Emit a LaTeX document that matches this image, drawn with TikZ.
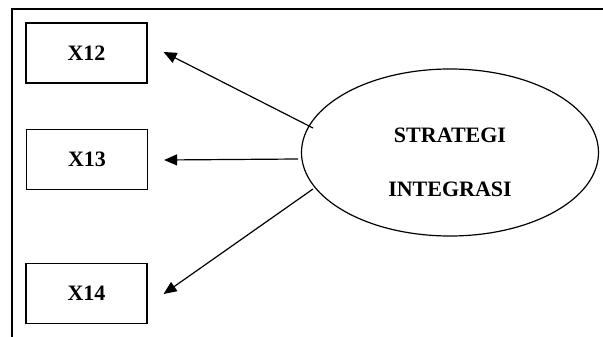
\documentclass[tikz,border=0pt]{standalone}
\usepackage{fontspec}
\setmainfont{Liberation Serif}
\usetikzlibrary{shapes.geometric,arrows.meta,positioning}
\begin{document}
\begin{tikzpicture}[x=1pt,y=-1pt,
  line width=1.2pt,
  varbox/.style={draw, minimum width=121pt, minimum height=60pt, inner sep=0pt,
    font=\fontsize{22}{26}\selectfont\bfseries},
  latent/.style={draw, ellipse, minimum width=297pt, minimum height=167pt, inner sep=0pt},
  lbl/.style={font=\fontsize{22}{26}\selectfont\bfseries, inner sep=0pt},
  arr/.style={-{Triangle[length=13pt,width=11pt]}}]
  \useasboundingbox (0,0) rectangle (603,337);
  % open frame: top and left edges only
  \draw (603,9) -- (12,9) -- (12,337);
  % indicator boxes
  \node[varbox] (x12) at (86.5,53) {X12};
  \node[varbox] (x13) at (87,159.5) {X13};
  \node[varbox] (x14) at (86.5,293.5) {X14};
  % latent construct
  \node[latent] (si) at (450,152.5) {};
  \node[lbl] (l1) at (450,135) {STRATEGI};
  \node[lbl] (l2) at (450,189.5) {INTEGRASI};
  % arrow start and tip points
  \coordinate (s12) at (313,128);
  \coordinate (s13) at (298,159);
  \coordinate (s14) at (313,189);
  \coordinate (t12) at ([xshift=16pt,yshift=1pt]x12.east);
  \coordinate (t13) at ([xshift=16pt,yshift=-0.5pt]x13.east);
  \coordinate (t14) at ([xshift=16pt,yshift=-0.5pt]x14.east);
  \draw[arr] (s12) -- (t12);
  \draw[arr] (s13) -- (t13);
  \draw[arr] (s14) -- (t14);
\end{tikzpicture}
\end{document}
